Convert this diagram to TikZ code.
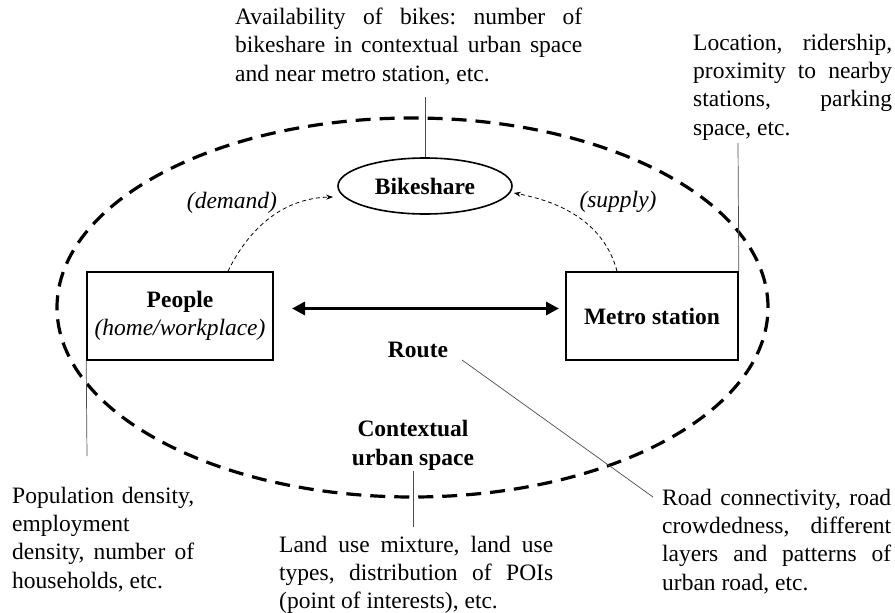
\documentclass[tikz,border=0pt]{standalone}
\usepackage{fontspec}
\setmainfont{Liberation Serif}
\usetikzlibrary{arrows.meta,shapes.geometric}
\frenchspacing
% a line with the font's own word spaces
\newcommand\pline[1]{{\spaceskip=0pt\xspaceskip=0pt #1}}
% one justified line of a note, spread to the note's width
\newcommand\jline[1]{{\spaceskip=0pt\xspaceskip=0pt\makebox[\linewidth][s]{#1}}}
\begin{document}
\begin{tikzpicture}[x=1pt,y=-1pt,
  every node/.style={font=\fontsize{23.5}{28.4}\selectfont, inner sep=0pt},
  box/.style={draw, line width=1.6pt, minimum height=88pt},
  note/.style={anchor=base west, align=left},
  leader/.style={draw=black!70, line width=0.7pt},
  flow/.style={line width=0.8pt, dash pattern=on 4pt off 3pt,
    -{Stealth[length=7pt,width=5pt]}},
  link/.style={line width=3pt,
    {Triangle[length=13pt,width=13pt]}-{Triangle[length=13pt,width=13pt]}},
  zone/.style={ellipse, draw, line width=3.2pt, dash pattern=on 15pt off 9pt}
]
\useasboundingbox (0,0) rectangle (895,613);

% contextual urban space
\node[zone, minimum width=711pt, minimum height=379pt] (space) at (412.5,307.5) {};

% main elements
\node[box, align=center, minimum width=186pt] (people) at (180,316)
  {\textbf{People}\\\textit{(home/workplace)}};
\node[box, minimum width=172pt] (metro) at (652,316) {\textbf{Metro station}};
\node[ellipse, draw, line width=1.6pt, minimum width=174pt, minimum height=56pt]
  (bike) at (425,186) {\textbf{Bikeshare}};
\node[anchor=base] (route) at (418,357) {\textbf{Route}};
\node[anchor=base, align=center] (ctx) at (413,465)
  {\textbf{Contextual}\\\pline{\textbf{urban space}}};

% route between people and metro station
\coordinate (al) at (292,308.5);
\coordinate (ar) at (559,308.5);
\draw[link] (al) -- (ar);

% demand and supply
\coordinate (dstart) at ([xshift=48pt]people.north);
\coordinate (dend) at ([xshift=-4pt,yshift=-11pt]bike.west);
\draw[flow] (dstart) .. controls (250,226) and (285,198) .. (dend);
\node[anchor=base] (demand) at (232,208) {\textit{(demand)}};
\coordinate (sstart) at ([xshift=-35pt]metro.north);
\coordinate (send) at ([xshift=1pt,yshift=-7pt]bike.east);
\draw[flow] (sstart) .. controls (606,230) and (572,204) .. (send);
\node[anchor=base] (supply) at (618,207) {\textit{(supply)}};

% notes
\node[note, text width=347pt] (nbike) at (235,24.5)
  {\jline{Availability of bikes: number of}\\
   \jline{bikeshare in contextual urban space}\\
   \pline{and near metro station, etc.}};
\node[note, text width=199pt] (nmetro) at (693,50)
  {\jline{Location, ridership,}\\
   \jline{proximity to nearby}\\
   \jline{stations, parking}\\
   \pline{space, etc.}};
\node[note, text width=182pt] (npeople) at (12,503)
  {\jline{Population density,}\\
   employment\\
   \jline{density, number of}\\
   \pline{households, etc.}};
\node[note, text width=274pt] (nspace) at (279,552)
  {\jline{Land use mixture, land use}\\
   \jline{types, distribution of POIs}\\
   \pline{(point of interests), etc.}};
\node[note, text width=229pt] (nroute) at (662,505)
  {\jline{Road connectivity, road}\\
   \jline{crowdedness, different}\\
   \jline{layers and patterns of}\\
   \pline{urban road, etc.}};

% leader lines
\coordinate (lbike) at (425,97);
\draw[leader] (lbike) -- (bike.north);
\coordinate (lmetro) at (738,143);
\draw[leader] (lmetro) -- (metro.north east);
\coordinate (lpeople) at (87,456);
\draw[leader] (people.south west) -- (lpeople);
\coordinate (lctxa) at (413,471);
\coordinate (lctxb) at (413,527);
\draw[leader] (lctxa) -- (lctxb);
\coordinate (lroutea) at (462,360);
\coordinate (lrouteb) at (653,497);
\draw[leader] (lroutea) -- (lrouteb);
\end{tikzpicture}
\end{document}
